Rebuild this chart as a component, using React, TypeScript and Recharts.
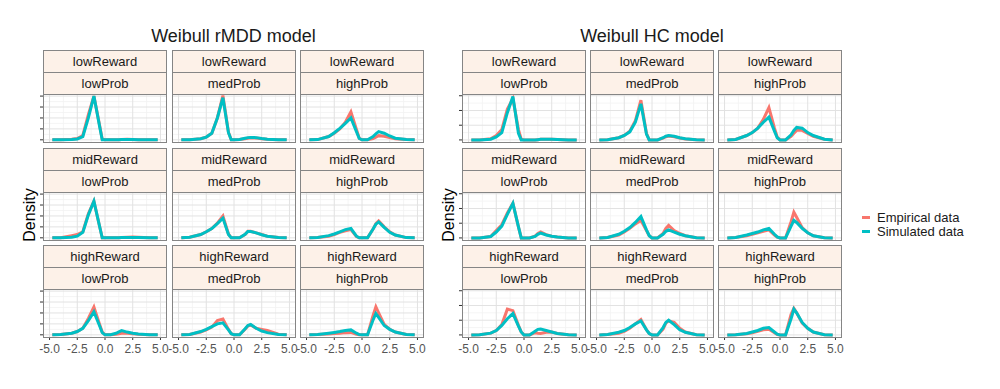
import { LineChart, Line, XAxis, YAxis, ReferenceLine } from 'recharts';

// shared x grid of the density curves
const xs = [-4.75, -4, -3, -2.5, -2, -1.5, -1, -0.5, -0.25, 0, 0.5, 1, 1.25, 1.5, 2, 2.5, 3, 4, 4.75];

const rewards = ['lowReward', 'midReward', 'highReward'];
const probs = ['lowProb', 'medProb', 'highProb'];

const xTicks = [-5, -2.5, 0, 2.5, 5];
const xMinor = [-3.75, -1.25, 1.25, 3.75];

// Weibull rMDD model (left)
const rmddLowLowEmp = [0, 0, 0.05, 0.12, 0.4, 2.3, 4.0, 1.4, 0.05, 0, 0, 0, 0.01, 0.03, 0.05, 0.03, 0.01, 0, 0];
const rmddLowLowSim = [0, 0, 0.03, 0.08, 0.3, 2.0, 4.0, 1.3, 0, 0, 0, 0, 0, 0.02, 0.03, 0.02, 0.01, 0, 0];
const rmddLowMedEmp = [0, 0.01, 0.1, 0.25, 0.6, 2.0, 4.05, 0.7, 0, 0, 0.02, 0.1, 0.15, 0.18, 0.17, 0.1, 0.05, 0.01, 0];
const rmddLowMedSim = [0, 0.01, 0.1, 0.25, 0.6, 2.0, 3.85, 0.65, 0, 0, 0.03, 0.15, 0.2, 0.22, 0.2, 0.12, 0.06, 0.01, 0];
const rmddLowHighEmp = [0, 0.02, 0.3, 0.6, 1.0, 1.6, 2.55, 0.95, 0.15, 0, 0, 0.12, 0.25, 0.38, 0.33, 0.2, 0.1, 0.02, 0];
const rmddLowHighSim = [0, 0.02, 0.3, 0.65, 1.05, 1.5, 2.0, 0.75, 0.12, 0, 0, 0.3, 0.55, 0.75, 0.6, 0.35, 0.15, 0.02, 0];
const rmddMidLowEmp = [0, 0, 0.2, 0.3, 0.55, 2.2, 3.35, 1.1, 0, 0, 0, 0, 0.01, 0.03, 0.05, 0.08, 0.05, 0, 0];
const rmddMidLowSim = [0, 0, 0.05, 0.15, 0.5, 2.1, 3.35, 1.1, 0, 0, 0, 0, 0.01, 0.02, 0.03, 0.03, 0.02, 0, 0];
const rmddMidMedEmp = [0, 0.05, 0.3, 0.55, 0.85, 1.35, 2.0, 0.35, 0, 0, 0, 0.3, 0.6, 0.6, 0.45, 0.3, 0.15, 0.02, 0];
const rmddMidMedSim = [0, 0.05, 0.3, 0.55, 0.85, 1.3, 1.8, 0.3, 0, 0, 0, 0.32, 0.58, 0.57, 0.45, 0.28, 0.15, 0.02, 0];
const rmddMidHighEmp = [0, 0.02, 0.15, 0.3, 0.5, 0.65, 0.75, 0.12, 0, 0, 0, 0.8, 1.3, 1.55, 1.0, 0.55, 0.25, 0.02, 0];
const rmddMidHighSim = [0, 0.02, 0.2, 0.35, 0.55, 0.75, 0.85, 0.15, 0, 0, 0, 0.8, 1.25, 1.45, 0.95, 0.5, 0.25, 0.02, 0];
const rmddHighLowEmp = [0, 0.02, 0.15, 0.3, 0.6, 1.5, 2.55, 1.0, 0.25, 0, 0, 0.06, 0.1, 0.15, 0.15, 0.1, 0.06, 0.01, 0];
const rmddHighLowSim = [0, 0.02, 0.15, 0.3, 0.6, 1.3, 2.1, 0.85, 0.2, 0, 0, 0.14, 0.26, 0.38, 0.25, 0.15, 0.08, 0.01, 0];
const rmddHighMedEmp = [0, 0.03, 0.25, 0.45, 0.7, 1.3, 1.45, 0.5, 0.1, 0, 0, 0.5, 0.8, 0.9, 0.6, 0.5, 0.4, 0.05, 0];
const rmddHighMedSim = [0, 0.03, 0.3, 0.5, 0.75, 1.0, 1.1, 0.45, 0.1, 0, 0, 0.55, 0.85, 0.95, 0.6, 0.35, 0.2, 0.03, 0];
const rmddHighHighEmp = [0, 0.02, 0.08, 0.12, 0.15, 0.2, 0.22, 0.05, 0, 0, 0, 1.78, 2.55, 2.0, 0.95, 0.5, 0.25, 0.03, 0];
const rmddHighHighSim = [0, 0.03, 0.15, 0.22, 0.3, 0.4, 0.45, 0.15, 0.02, 0, 0, 1.36, 1.95, 1.6, 0.85, 0.5, 0.25, 0.03, 0];

// Weibull HC model (right)
const hcLowLowEmp = [0, 0, 0.08, 0.3, 0.7, 2.1, 2.8, 0.7, 0.05, 0, 0, 0, 0.02, 0.04, 0.05, 0.04, 0.03, 0, 0];
const hcLowLowSim = [0, 0, 0.05, 0.2, 0.5, 1.85, 2.95, 0.45, 0, 0, 0, 0, 0.02, 0.04, 0.05, 0.04, 0.03, 0, 0];
const hcLowMedEmp = [0, 0.02, 0.15, 0.3, 0.6, 1.3, 2.7, 0.45, 0, 0, 0, 0.12, 0.22, 0.27, 0.22, 0.13, 0.07, 0.01, 0];
const hcLowMedSim = [0, 0.02, 0.15, 0.3, 0.55, 1.2, 2.45, 0.4, 0, 0, 0, 0.15, 0.25, 0.3, 0.25, 0.15, 0.08, 0.01, 0];
const hcLowHighEmp = [0, 0.03, 0.3, 0.5, 0.8, 1.4, 2.2, 0.8, 0.2, 0, 0, 0.25, 0.45, 0.65, 0.65, 0.45, 0.25, 0.05, 0];
const hcLowHighSim = [0, 0.03, 0.3, 0.5, 0.8, 1.2, 1.55, 0.6, 0.15, 0, 0, 0.35, 0.65, 0.85, 0.8, 0.5, 0.3, 0.05, 0];
const hcMidLowEmp = [0, 0, 0.1, 0.5, 0.9, 1.7, 2.35, 0.75, 0, 0, 0, 0.12, 0.3, 0.4, 0.22, 0.12, 0.06, 0, 0];
const hcMidLowSim = [0, 0, 0.1, 0.4, 0.8, 1.6, 2.35, 0.75, 0, 0, 0, 0.1, 0.25, 0.33, 0.2, 0.12, 0.06, 0, 0];
const hcMidMedEmp = [0, 0.03, 0.2, 0.4, 0.65, 0.95, 1.2, 0.5, 0.15, 0, 0, 0.3, 0.65, 0.85, 0.5, 0.3, 0.15, 0.02, 0];
const hcMidMedSim = [0, 0.03, 0.25, 0.45, 0.7, 1.05, 1.45, 0.55, 0.15, 0, 0, 0.25, 0.45, 0.55, 0.4, 0.25, 0.15, 0.02, 0];
const hcMidHighEmp = [0, 0.03, 0.15, 0.25, 0.35, 0.45, 0.55, 0.2, 0.05, 0, 0, 1.1, 1.75, 1.4, 0.7, 0.35, 0.15, 0.02, 0];
const hcMidHighSim = [0, 0.03, 0.2, 0.3, 0.4, 0.55, 0.65, 0.25, 0.07, 0, 0, 0.8, 1.2, 1.05, 0.65, 0.35, 0.15, 0.02, 0];
const hcHighLowEmp = [0, 0.02, 0.12, 0.3, 0.7, 1.75, 1.65, 0.65, 0.2, 0, 0, 0.15, 0.12, 0.1, 0.18, 0.2, 0.1, 0.01, 0];
const hcHighLowSim = [0, 0.02, 0.12, 0.3, 0.65, 1.1, 1.45, 0.6, 0.2, 0, 0, 0.25, 0.38, 0.4, 0.3, 0.2, 0.1, 0.01, 0];
const hcHighMedEmp = [0, 0.03, 0.12, 0.25, 0.45, 0.75, 1.05, 0.35, 0.1, 0, 0, 0.4, 0.8, 0.95, 0.85, 0.45, 0.2, 0.02, 0];
const hcHighMedSim = [0, 0.03, 0.18, 0.3, 0.5, 0.75, 0.95, 0.35, 0.1, 0, 0, 0.5, 0.85, 1.0, 0.7, 0.35, 0.18, 0.02, 0];
const hcHighHighEmp = [0, 0.02, 0.08, 0.15, 0.25, 0.35, 0.38, 0.15, 0.03, 0, 0, 1.4, 1.8, 1.5, 0.8, 0.45, 0.2, 0.02, 0];
const hcHighHighSim = [0, 0.02, 0.1, 0.2, 0.3, 0.45, 0.5, 0.2, 0.05, 0, 0, 1.1, 1.75, 1.5, 0.85, 0.45, 0.2, 0.02, 0];

const rmddEmp = [
  [rmddLowLowEmp, rmddLowMedEmp, rmddLowHighEmp],
  [rmddMidLowEmp, rmddMidMedEmp, rmddMidHighEmp],
  [rmddHighLowEmp, rmddHighMedEmp, rmddHighHighEmp],
];
const rmddSim = [
  [rmddLowLowSim, rmddLowMedSim, rmddLowHighSim],
  [rmddMidLowSim, rmddMidMedSim, rmddMidHighSim],
  [rmddHighLowSim, rmddHighMedSim, rmddHighHighSim],
];
const hcEmp = [
  [hcLowLowEmp, hcLowMedEmp, hcLowHighEmp],
  [hcMidLowEmp, hcMidMedEmp, hcMidHighEmp],
  [hcHighLowEmp, hcHighMedEmp, hcHighHighEmp],
];
const hcSim = [
  [hcLowLowSim, hcLowMedSim, hcLowHighSim],
  [hcMidLowSim, hcMidMedSim, hcMidHighSim],
  [hcHighLowSim, hcHighMedSim, hcHighHighSim],
];

const EMP_COLOR = '#F8766D';
const SIM_COLOR = '#00BFC4';
const BORDER = '#858585';
const STRIP_FILL = '#fdf1e8';
const FONT = '"Liberation Sans", Arial, sans-serif';

const FACET_W = 124;
const FACET_H = 93;
const STRIP_H = 21;
const PLOT_W = FACET_W - 2;
const PLOT_H = 47;
const ROW_TOPS = [50, 148, 245];
const SIDE = 12;
const Y_AXIS_W = 6;
const X_AXIS_H = 20;

interface FacetProps {
  left: number;
  top: number;
  reward: string;
  prob: string;
  emp: number[];
  sim: number[];
  yDomain: number[];
  yTicks: number[];
  yMinor: number[];
  showY: boolean;
  showX: boolean;
}

function Facet({ left, top, reward, prob, emp, sim, yDomain, yTicks, yMinor, showY, showX }: FacetProps) {
  const data = xs.map((x, i) => ({ x, emp: emp[i], sim: sim[i] }));
  const yw = showY ? Y_AXIS_W : 0;
  const chartW = PLOT_W + yw + SIDE * 2;
  const chartH = PLOT_H + (showX ? X_AXIS_H : 0);
  const plotTop = top + 1 + STRIP_H + 1 + STRIP_H + 1;
  const stripStyle = {
    height: STRIP_H,
    lineHeight: `${STRIP_H}px`,
    background: STRIP_FILL,
    borderBottom: `1px solid ${BORDER}`,
    textAlign: 'center' as const,
    fontSize: 13,
    color: '#1a1a1a',
  };

  return (
    <>
      <div
        style={{
          position: 'absolute',
          left,
          top,
          width: FACET_W,
          height: FACET_H,
          boxSizing: 'border-box',
          border: `1px solid ${BORDER}`,
          background: 'white',
        }}
      >
        <div style={stripStyle}>{reward}</div>
        <div style={stripStyle}>{prob}</div>
      </div>
      <div style={{ position: 'absolute', left: left + 1 - SIDE - yw, top: plotTop }}>
        <LineChart
          width={chartW}
          height={chartH}
          data={data}
          margin={{ top: 0, right: SIDE, bottom: 0, left: SIDE }}
        >
          <XAxis
            type="number"
            dataKey="x"
            domain={[-5.5, 5.5]}
            ticks={xTicks}
            allowDataOverflow
            hide={!showX}
            height={X_AXIS_H}
            axisLine={false}
            tickSize={3}
            tickMargin={4}
            tickLine={{ stroke: '#333' }}
            tick={{ fontSize: 12, fill: '#555', fontFamily: FONT }}
            tickFormatter={(v: number) => v.toFixed(1)}
          />
          <YAxis
            type="number"
            domain={yDomain}
            ticks={yTicks}
            allowDataOverflow
            hide={!showY}
            width={Y_AXIS_W}
            axisLine={false}
            tickSize={4}
            tickLine={{ stroke: '#333' }}
            tickFormatter={() => ''}
          />
          {yMinor.map((v) => (
            <ReferenceLine key={`ym${v}`} y={v} stroke="#f2f2f2" strokeWidth={0.8} />
          ))}
          {xMinor.map((v) => (
            <ReferenceLine key={`xm${v}`} x={v} stroke="#f2f2f2" strokeWidth={0.8} />
          ))}
          {yTicks.map((v) => (
            <ReferenceLine key={`y${v}`} y={v} stroke="#e2e2e2" strokeWidth={1} />
          ))}
          {xTicks.map((v) => (
            <ReferenceLine key={`x${v}`} x={v} stroke="#e2e2e2" strokeWidth={1} />
          ))}
          <Line type="linear" dataKey="emp" stroke={EMP_COLOR} strokeWidth={3} dot={false} isAnimationActive={false} />
          <Line type="linear" dataKey="sim" stroke={SIM_COLOR} strokeWidth={3} dot={false} isAnimationActive={false} />
        </LineChart>
      </div>
      <div
        style={{
          position: 'absolute',
          left,
          top: plotTop - 1,
          width: FACET_W,
          height: PLOT_H + 2,
          boxSizing: 'border-box',
          border: `1px solid ${BORDER}`,
          pointerEvents: 'none',
        }}
      />
    </>
  );
}

interface GridProps {
  title: string;
  colLefts: number[];
  emp: number[][][];
  sim: number[][][];
  yDomain: number[];
  yTicks: number[];
  yMinor: number[];
}

function FacetGrid({ title, colLefts, emp, sim, yDomain, yTicks, yMinor }: GridProps) {
  const center = (colLefts[0] + colLefts[2] + FACET_W) / 2;
  return (
    <>
      <div
        style={{
          position: 'absolute',
          left: center - 150,
          width: 300,
          top: 25,
          height: 22,
          lineHeight: '22px',
          textAlign: 'center',
          fontSize: 18,
          color: '#1a1a1a',
        }}
      >
        {title}
      </div>
      <div
        style={{
          position: 'absolute',
          left: colLefts[0] - 13 - 40,
          top: 205,
          width: 80,
          height: 20,
          lineHeight: '20px',
          textAlign: 'center',
          fontSize: 16,
          color: '#000',
          transform: 'rotate(-90deg)',
        }}
      >
        Density
      </div>
      {rewards.map((reward, r) =>
        probs.map((prob, c) => (
          <Facet
            key={`${reward}-${prob}`}
            left={colLefts[c]}
            top={ROW_TOPS[r]}
            reward={reward}
            prob={prob}
            emp={emp[r][c]}
            sim={sim[r][c]}
            yDomain={yDomain}
            yTicks={yTicks}
            yMinor={yMinor}
            showY={c === 0}
            showX={r === 2}
          />
        ))
      )}
    </>
  );
}

export default function App() {
  return (
    <div
      style={{
        position: 'absolute',
        left: 0,
        top: 0,
        width: 1000,
        height: 389,
        background: 'white',
        fontFamily: FONT,
        overflow: 'hidden',
      }}
    >
      <FacetGrid
        title="Weibull rMDD model"
        colLefts={[43, 172, 300]}
        emp={rmddEmp}
        sim={rmddSim}
        yDomain={[-0.2, 4.1]}
        yTicks={[0, 1, 2, 3, 4]}
        yMinor={[0.5, 1.5, 2.5, 3.5]}
      />
      <FacetGrid
        title="Weibull HC model"
        colLefts={[462, 590, 718]}
        emp={hcEmp}
        sim={hcSim}
        yDomain={[-0.14, 3.05]}
        yTicks={[0, 1, 2, 3]}
        yMinor={[0.5, 1.5, 2.5]}
      />
      <div style={{ position: 'absolute', left: 862, top: 210, fontSize: 13, color: '#1a1a1a' }}>
        {[
          { name: 'Empirical data', color: EMP_COLOR },
          { name: 'Simulated data', color: SIM_COLOR },
        ].map((item) => (
          <div key={item.name} style={{ display: 'flex', alignItems: 'center', height: 14 }}>
            <div style={{ width: 8, height: 3, background: item.color, marginRight: 7 }} />
            <span>{item.name}</span>
          </div>
        ))}
      </div>
    </div>
  );
}
